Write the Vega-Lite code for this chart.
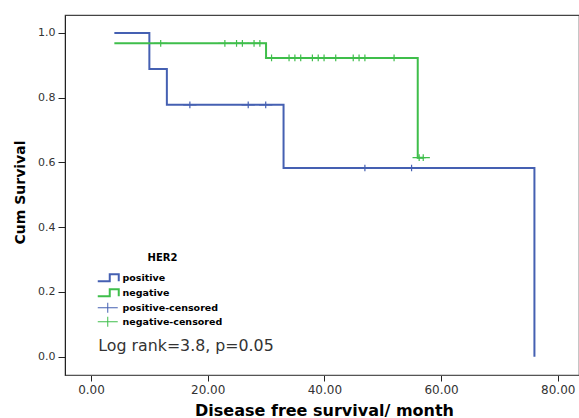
{
  "$schema": "https://vega.github.io/schema/vega-lite/v6.json",
  "width": 514,
  "height": 360,
  "autosize": {"type": "none"},
  "padding": {"left": 65, "top": 15, "right": 0, "bottom": 43},
  "background": "white",
  "config": {"view": {"stroke": "#444", "strokeWidth": 1.2}, "font": "DejaVu Sans"},
  "datasets": {
    "steps": [
      {"group": "positive", "time": 4, "surv": 1.0},
      {"group": "positive", "time": 10, "surv": 0.889},
      {"group": "positive", "time": 13, "surv": 0.778},
      {"group": "positive", "time": 33, "surv": 0.583},
      {"group": "positive", "time": 76, "surv": 0.0},
      {"group": "negative", "time": 4, "surv": 0.968},
      {"group": "negative", "time": 30, "surv": 0.923},
      {"group": "negative", "time": 56, "surv": 0.615},
      {"group": "negative", "time": 57, "surv": 0.615}
    ],
    "censors": [
      {"group": "positive-censored", "time": 17, "surv": 0.778},
      {"group": "positive-censored", "time": 27, "surv": 0.778},
      {"group": "positive-censored", "time": 30, "surv": 0.778},
      {"group": "positive-censored", "time": 47, "surv": 0.583},
      {"group": "positive-censored", "time": 55, "surv": 0.583},
      {"group": "negative-censored", "time": 12, "surv": 0.968},
      {"group": "negative-censored", "time": 23, "surv": 0.968},
      {"group": "negative-censored", "time": 25, "surv": 0.968},
      {"group": "negative-censored", "time": 26, "surv": 0.968},
      {"group": "negative-censored", "time": 28, "surv": 0.968},
      {"group": "negative-censored", "time": 29, "surv": 0.968},
      {"group": "negative-censored", "time": 31, "surv": 0.923},
      {"group": "negative-censored", "time": 34, "surv": 0.923},
      {"group": "negative-censored", "time": 35, "surv": 0.923},
      {"group": "negative-censored", "time": 36, "surv": 0.923},
      {"group": "negative-censored", "time": 38, "surv": 0.923},
      {"group": "negative-censored", "time": 39, "surv": 0.923},
      {"group": "negative-censored", "time": 40, "surv": 0.923},
      {"group": "negative-censored", "time": 42, "surv": 0.923},
      {"group": "negative-censored", "time": 45, "surv": 0.923},
      {"group": "negative-censored", "time": 46, "surv": 0.923},
      {"group": "negative-censored", "time": 47, "surv": 0.923},
      {"group": "negative-censored", "time": 52, "surv": 0.923},
      {"group": "negative-censored", "time": 56.3, "surv": 0.615},
      {"group": "negative-censored", "time": 57, "surv": 0.615}
    ],
    "note": [
      {"label": "Log rank=3.8, p=0.05", "time": 1.25, "surv": 0.0176}
    ]
  },
  "layer": [
    {
      "data": {"name": "steps"},
      "mark": {"type": "line", "interpolate": "step-after", "strokeWidth": 2},
      "encoding": {
        "x": {
          "field": "time", "type": "quantitative",
          "scale": {"domain": [-4.46, 83.64], "nice": false, "zero": false},
          "axis": {
            "values": [0, 20, 40, 60, 80], "format": ".2f",
            "title": "Disease free survival/ month",
            "grid": false, "tickSize": 6, "labelPadding": 3,
            "labelFont": "DejaVu Sans", "labelFontSize": 12, "labelColor": "#333",
            "titleFont": "DejaVu Sans", "titleFontSize": 16, "titleFontWeight": "bold", "titleColor": "black",
            "titleX": 259, "titleY": 40, "titleBaseline": "alphabetic", "titleAlign": "center",
            "domainColor": "#555", "tickColor": "#222", "labelFlush": false
          }
        },
        "y": {
          "field": "surv", "type": "quantitative",
          "scale": {"domain": [-0.0565, 1.0556], "nice": false, "zero": false},
          "axis": {
            "values": [0, 0.2, 0.4, 0.6, 0.8, 1], "format": ".1f",
            "title": "Cum Survival",
            "grid": false, "tickSize": 7, "labelPadding": 3,
            "labelFont": "DejaVu Sans", "labelFontSize": 11, "labelColor": "#333",
            "tickColor": "#222", "domainColor": "#222", "labelFlush": false,
            "titleFont": "DejaVu Sans", "titleFontSize": 14, "titleFontWeight": "bold", "titleColor": "black",
            "titleX": -41, "titleY": 177, "titleAngle": -90, "titleAlign": "center", "titleBaseline": "alphabetic"
          }
        },
        "color": {
          "field": "group", "type": "nominal",
          "scale": {
            "domain": ["positive", "negative", "positive-censored", "negative-censored"],
            "range": ["#4560b2", "#3fbe4b", "#4560b2", "#3fbe4b"]
          },
          "legend": {
            "title": "HER2", "orient": "none", "legendX": 38.5, "legendY": 238,
            "titleFont": "DejaVu Sans", "titleFontSize": 10, "titleFontWeight": "bold", "titleColor": "black",
            "titleAnchor": "middle", "titlePadding": 10,
            "labelFont": "DejaVu Sans", "labelFontSize": 9.5, "labelFontWeight": "bold", "labelColor": "black",
            "symbolSize": 100, "symbolStrokeWidth": 1.5, "symbolOpacity": 1,
            "labelOffset": 9.5, "rowPadding": -1, "padding": 0,
            "encode": {"symbols": {"update": {"strokeWidth": {"signal": "indexof('' + datum.value, 'censored') >= 0 ? 1 : 2"}}}}
          }
        }
      }
    },
    {
      "data": {"name": "censors"},
      "mark": {"type": "point", "filled": false, "strokeWidth": 1.2, "opacity": 1},
      "encoding": {
        "x": {"field": "time", "type": "quantitative"},
        "y": {"field": "surv", "type": "quantitative"},
        "color": {"field": "group", "type": "nominal"},
        "shape": {
          "field": "group", "type": "nominal",
          "scale": {
            "domain": ["positive", "negative", "positive-censored", "negative-censored"],
            "range": ["M-2.1,0.7H0.3V-0.7H2.1V0.7", "M-2.1,0.7H0.3V-0.7H2.1V0.7", "M-2.1,0H1.9M-0.1,-1V1", "M-2.1,0H1.9M-0.1,-1V1"]
          },
          "legend": {"title": "HER2"}
        },
        "size": {"value": 44}
      }
    },
    {
      "data": {"name": "note"},
      "mark": {"type": "text", "align": "left", "baseline": "alphabetic", "fontSize": 15.8, "font": "DejaVu Sans", "color": "#333"},
      "encoding": {
        "x": {"field": "time", "type": "quantitative"},
        "y": {"field": "surv", "type": "quantitative"},
        "text": {"field": "label"}
      }
    }
  ]
}
